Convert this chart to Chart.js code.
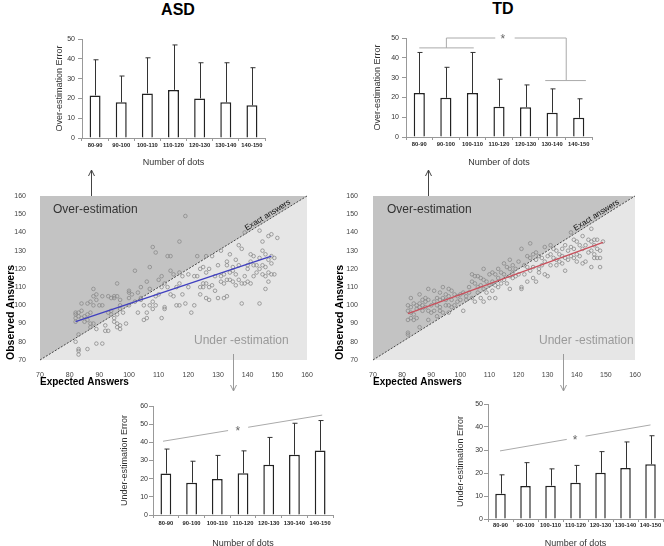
<!DOCTYPE html>
<html><head><meta charset="utf-8">
<script src="https://cdn.jsdelivr.net/npm/chart.js@4/dist/chart.umd.min.js"></script>
<style>
html,body{margin:0;padding:0;width:664px;height:546px;overflow:hidden;background:#fff;}
canvas{position:absolute;}
.ttl{position:absolute;font:bold 16px 'Liberation Sans',sans-serif;color:#000;transform:translate(-50%,-50%);}
</style></head><body>
<div class="ttl" style="left:178px;top:10px">ASD</div>
<div class="ttl" style="left:503px;top:9px">TD</div>
<canvas id="c1" width="245" height="150" style="left:30px;top:25px"></canvas>
<canvas id="c2" width="245" height="150" style="left:360px;top:25px"></canvas>
<canvas id="c3" width="320" height="235" style="left:0px;top:160px"></canvas>
<canvas id="c4" width="320" height="235" style="left:332px;top:160px"></canvas>
<canvas id="c5" width="245" height="160" style="left:100px;top:395px"></canvas>
<canvas id="c6" width="224" height="160" style="left:440px;top:395px"></canvas>
<script>
// ---------- DATA ----------
const categories = ['80-90','90-100','100-110','110-120','120-130','130-140','140-150'];
const asdOverMean = [21.5, 18, 22.5, 24.3, 20, 18, 16.5];
const asdOverSD   = [18, 13.3, 18, 22.7, 18, 20, 19];
const tdOverMean  = [22.2, 19.8, 22.2, 15.3, 15, 12.3, 9.7];
const tdOverSD    = [20.5, 15.4, 20.5, 13.9, 11.3, 12, 9.6];
const asdUnderMean = [22.8, 17.8, 19.8, 23, 27.6, 33.2, 35.5];
const asdUnderSD   = [13.5, 11.8, 13, 12.3, 15.1, 17.3, 16.5];
const tdUnderMean  = [11, 14.3, 14.5, 15.8, 20.1, 22.2, 23.8];
const tdUnderSD    = [8.2, 10.2, 7.3, 7.5, 9.2, 11.3, 12.4];
const scatterTicks = {min: 70, max: 160, step: 10};
const asdFit = [[82, 91], [148, 127]];
const tdFit  = [[82, 95.5], [149, 134.5]];
const asdPoints = [[82,95],[82,93],[82,91],[82,96],[82,80],[83,96],[83,94],[83,84],[83,76],[83,75],[83,73],[84,97],[84,101],[84,93],[85,94],[85,91],[86,101],[86,95],[86,92],[86,76],[87,102],[87,96],[87,90],[87,88],[88,109],[88,105],[88,100],[88,90],[89,106],[89,103],[89,87],[89,79],[90,100],[91,79],[91,105],[91,100],[92,89],[92,86],[93,105],[93,86],[93,96],[94,104],[94,97],[94,95],[95,105],[95,104],[95,93],[95,91],[96,105],[96,95],[96,90],[96,88],[96,112],[97,103],[97,100],[97,98],[97,89],[97,87],[98,96],[99,90],[100,108],[100,107],[100,104],[100,100],[101,106],[102,102],[102,119],[103,107],[103,96],[104,110],[104,104],[104,103],[105,92],[105,100],[106,113],[106,96],[106,93],[107,121],[107,109],[107,100],[108,132],[108,102],[108,98],[109,129],[109,105],[109,100],[110,114],[110,106],[111,116],[111,110],[111,93],[112,112],[112,99],[112,98],[113,127],[113,110],[114,127],[114,119],[114,106],[115,117],[115,105],[116,110],[116,100],[117,135],[117,118],[117,112],[117,100],[118,116],[118,106],[119,149],[119,101],[120,117],[120,110],[121,96],[122,116],[122,100],[123,127],[123,116],[124,120],[124,110],[124,106],[125,121],[125,112],[125,110],[126,127],[126,118],[126,112],[126,104],[127,120],[127,110],[127,103],[128,127],[128,111],[129,116],[129,108],[130,122],[130,104],[131,130],[131,116],[131,113],[132,117],[132,112],[132,104],[133,124],[133,122],[133,114],[133,105],[134,128],[134,118],[134,114],[135,121],[135,119],[135,113],[136,125],[136,117],[136,111],[137,133],[137,122],[137,114],[138,131],[138,112],[138,101],[139,140],[139,116],[139,112],[140,122],[140,120],[140,113],[141,128],[141,124],[141,112],[142,127],[142,122],[142,116],[143,122],[143,118],[144,141],[144,126],[144,120],[144,101],[145,135],[145,130],[145,122],[145,117],[146,128],[146,121],[146,116],[146,109],[147,138],[147,125],[147,118],[147,113],[148,139],[148,127],[148,123],[148,117],[149,126],[149,117],[150,137]];
const tdPoints = [[82,100],[82,97],[82,92],[82,85],[82,84],[83,104],[83,99],[83,96],[83,93],[84,101],[84,95],[84,92],[85,100],[85,98],[85,93],[86,106],[86,101],[86,99],[86,88],[87,103],[87,100],[87,97],[88,104],[88,102],[88,99],[89,109],[89,103],[89,97],[89,92],[90,100],[90,96],[91,108],[91,102],[91,97],[92,104],[92,100],[92,94],[93,107],[93,103],[93,99],[93,97],[94,110],[94,104],[94,96],[95,106],[95,103],[95,100],[96,109],[96,105],[96,100],[96,96],[97,108],[97,103],[97,99],[98,106],[98,100],[99,105],[99,102],[100,106],[100,103],[101,107],[101,97],[102,105],[102,103],[103,110],[103,107],[104,117],[104,113],[104,104],[105,116],[105,112],[105,102],[106,116],[106,110],[106,107],[107,115],[107,111],[107,104],[108,120],[108,114],[108,109],[108,102],[109,113],[109,107],[110,117],[110,111],[110,104],[111,118],[111,113],[111,108],[112,117],[112,111],[112,104],[113,120],[113,115],[113,110],[114,118],[114,112],[115,123],[115,117],[115,114],[116,121],[116,112],[117,125],[117,120],[117,116],[117,109],[118,122],[118,118],[118,115],[119,120],[119,116],[120,124],[120,117],[121,131],[121,110],[121,109],[122,122],[122,117],[123,127],[123,121],[123,113],[124,134],[124,126],[124,119],[125,128],[125,121],[125,115],[126,129],[126,125],[126,113],[127,127],[127,120],[127,118],[128,126],[128,122],[129,132],[129,124],[129,117],[130,127],[130,116],[131,133],[131,128],[131,122],[132,131],[132,126],[133,130],[133,125],[133,122],[134,128],[134,124],[135,131],[135,127],[135,123],[136,133],[136,126],[136,119],[137,130],[137,125],[138,140],[138,132],[138,127],[139,136],[139,131],[139,126],[140,135],[140,128],[140,124],[141,133],[141,127],[142,138],[142,131],[142,123],[143,133],[143,124],[144,136],[144,129],[145,142],[145,135],[145,130],[145,121],[146,136],[146,133],[146,128],[146,126],[147,136],[147,131],[147,126],[148,130],[148,126],[148,121],[149,135]];

// ---------- HELPERS ----------
Chart.defaults.font.family = "'Liberation Sans', sans-serif";
const FONT = "'Liberation Sans', sans-serif";
function catX(chart, i) { const s = chart.scales.x; return s.left + (i + 0.5) * (s.width / categories.length); }
function errPlugin(mean, sd) {
  return { id: 'err', afterDatasetsDraw(chart) {
    const ctx = chart.ctx, y = chart.scales.y, meta = chart.getDatasetMeta(0);
    ctx.save(); ctx.strokeStyle = '#333'; ctx.lineWidth = 1;
    meta.data.forEach((bar, i) => {
      const x = Math.round(bar.x) + 0.5, y0 = y.getPixelForValue(mean[i]), y1 = y.getPixelForValue(mean[i] + sd[i]);
      ctx.beginPath(); ctx.moveTo(x, y0); ctx.lineTo(x, y1); ctx.moveTo(x - 2, y1); ctx.lineTo(x + 3, y1); ctx.stroke();
    });
    ctx.restore();
  }};
}
function star(ctx, x, y) { ctx.save(); ctx.fillStyle = '#666'; ctx.font = '12px ' + FONT; ctx.textAlign = 'center'; ctx.textBaseline = 'alphabetic'; ctx.fillText('*', x, y + 6); ctx.restore(); }
function sigPlugin(fn) { return { id: 'sig', afterDatasetsDraw(chart) {
  const ctx = chart.ctx; ctx.save(); ctx.strokeStyle = '#aaa'; ctx.lineWidth = 1;
  fn(ctx, i => catX(chart, i), v => chart.scales.y.getPixelForValue(v)); ctx.restore(); } }; }
function seg(ctx, pts) { ctx.beginPath(); ctx.moveTo(pts[0][0], pts[0][1]); for (let k = 1; k < pts.length; k++) ctx.lineTo(pts[k][0], pts[k][1]); ctx.stroke(); }

function barChart(id, mean, sd, o) {
  return new Chart(document.getElementById(id), {
    type: 'bar',
    data: { labels: categories, datasets: [{ data: mean, backgroundColor: '#fff', borderColor: '#222', borderWidth: 1.5, borderSkipped: 'start', categoryPercentage: 1, barPercentage: 0.42 }] },
    options: {
      responsive: false, animation: false, devicePixelRatio: 1,
      layout: { padding: { left: 0, top: o.pt, right: o.pr, bottom: 0 } },
      plugins: { legend: { display: false }, tooltip: { enabled: false } },
      scales: {
        x: { afterFit: s => { s.height = o.xh; }, border: { color: '#999' },
             grid: { display: true, drawOnChartArea: false, drawTicks: true, tickLength: 3, color: '#999', offset: true },
             ticks: { font: { family: FONT, size: 5.8, weight: 'bold' }, color: '#222', padding: o.xtp, maxRotation: 0, autoSkip: false },
             title: { display: true, text: 'Number of dots', font: { size: 9 }, color: '#333', padding: { top: 0, bottom: o.xtb } } },
        y: { min: 0, max: o.ymax, afterFit: s => { s.width = o.yw; }, border: { color: '#999' },
             grid: { drawOnChartArea: false, tickLength: 4, color: '#999' },
             ticks: { stepSize: 10, font: { size: 7 }, color: '#333', padding: o.ytp },
             title: { display: true, text: o.ytitle, font: { size: 9 }, color: '#333', padding: { top: o.ytt, bottom: 0 } } }
      }
    },
    plugins: [errPlugin(mean, sd), o.sig].filter(Boolean)
  });
}

function arrow(ctx, x, y0, y1, color) {
  ctx.save(); ctx.strokeStyle = color; ctx.lineWidth = 1;
  const d = y1 > y0 ? -1 : 1;
  ctx.beginPath(); ctx.moveTo(x, y0); ctx.lineTo(x, y1);
  ctx.moveTo(x - 3, y1 + d * 6); ctx.lineTo(x, y1); ctx.lineTo(x + 3, y1 + d * 6); ctx.stroke(); ctx.restore();
}

function scatterChart(id, pts, fit, fitColor, o) {
  const bg = { id: 'bg', beforeDatasetsDraw(chart) {
    const ctx = chart.ctx, a = chart.chartArea, x = chart.scales.x, y = chart.scales.y;
    ctx.save();
    ctx.fillStyle = '#e6e6e6'; ctx.fillRect(a.left, a.top, a.width, a.height);
    ctx.fillStyle = '#c3c3c3';
    ctx.beginPath(); ctx.moveTo(x.getPixelForValue(70), y.getPixelForValue(70)); ctx.lineTo(x.getPixelForValue(160), y.getPixelForValue(160)); ctx.lineTo(x.getPixelForValue(70), y.getPixelForValue(160)); ctx.closePath(); ctx.fill();
    ctx.strokeStyle = '#222'; ctx.lineWidth = 0.8; ctx.setLineDash([2, 1.5]);
    ctx.beginPath(); ctx.moveTo(x.getPixelForValue(70), y.getPixelForValue(70)); ctx.lineTo(x.getPixelForValue(160), y.getPixelForValue(160)); ctx.stroke();
    ctx.restore();
  }, afterDatasetsDraw(chart) {
    const ctx = chart.ctx, a = chart.chartArea, x = chart.scales.x, y = chart.scales.y;
    ctx.save();
    const ang = Math.atan2(y.getPixelForValue(160) - y.getPixelForValue(70), x.getPixelForValue(160) - x.getPixelForValue(70));
    ctx.translate(x.getPixelForValue(147.5), y.getPixelForValue(147.5)); ctx.rotate(ang);
    ctx.fillStyle = '#111'; ctx.font = '8px ' + FONT; ctx.textAlign = 'center'; ctx.textBaseline = 'alphabetic';
    ctx.fillText('Exact answers', 0, -2);
    ctx.restore();
    ctx.save();
    ctx.font = '12px ' + FONT; ctx.textBaseline = 'middle'; ctx.textAlign = 'left';
    ctx.fillStyle = '#333'; ctx.fillText('Over-estimation', a.left + o.overDx, a.top + 14);
    ctx.fillStyle = '#9a9a9a'; ctx.fillText('Under -estimation', a.left + o.underDx, a.bottom - 19);
    ctx.restore();
    arrow(ctx, Math.round(a.left + o.upDx) + 0.5, a.top, a.top - 26, '#444');
    arrow(ctx, Math.round(a.left + o.downDx) + 0.5, a.bottom - 6, a.bottom + 31, '#999');
  }};
  return new Chart(document.getElementById(id), {
    type: 'scatter',
    data: { datasets: [
      { type: 'line', data: fit.map(p => ({ x: p[0], y: p[1] })), borderColor: fitColor, borderWidth: 1.3, pointRadius: 0, fill: false },
      { data: pts.map(p => ({ x: p[0], y: p[1] })), pointRadius: 1.8, borderWidth: 0.8, borderColor: '#8a8a8a', backgroundColor: 'rgba(0,0,0,0)' }
    ] },
    options: {
      responsive: false, animation: false, devicePixelRatio: 1,
      layout: { padding: { left: 0, top: 36, right: o.pr, bottom: 0 } },
      plugins: { legend: { display: false }, tooltip: { enabled: false } },
      scales: {
        x: { type: 'linear', min: scatterTicks.min, max: scatterTicks.max, afterFit: s => { s.height = 35; },
             grid: { display: false }, border: { display: false },
             ticks: { stepSize: scatterTicks.step, font: { size: 7 }, color: '#444', padding: 3, maxRotation: 0 },
             title: { display: true, text: 'Expected Answers', align: 'start', font: { size: 10, weight: 'bold' }, color: '#000', padding: { top: 0, bottom: 7 } } },
        y: { min: scatterTicks.min, max: scatterTicks.max, afterFit: s => { s.width = o.yw; },
             grid: { display: false }, border: { display: false },
             ticks: { stepSize: scatterTicks.step, font: { size: 7 }, color: '#444', padding: o.ytp },
             title: { display: true, text: 'Observed Answers', align: 'start', font: { size: 10.5, weight: 'bold' }, color: '#000', padding: { top: o.ytt, bottom: 0 } } }
      }
    },
    plugins: [bg]
  });
}

// ---------- CHARTS ----------
barChart('c1', asdOverMean, asdOverSD, { pt: 14, pr: 10, xh: 37, yw: 52, ymax: 50, ytitle: 'Over-estimation Error', ytt: 24, ytp: 3, xtp: 1, xtb: 7 });
barChart('c2', tdOverMean, tdOverSD, { pt: 13, pr: 13, xh: 38, yw: 46, ymax: 50, ytitle: 'Over-estimation Error', ytt: 12, ytp: 3, xtp: 1, xtb: 7,
  sig: sigPlugin((ctx, X, Y) => {
    seg(ctx, [[X(0), Y(45)], [X(2.05), Y(45)]]);
    seg(ctx, [[X(1.02), Y(45)], [X(1.02), Y(50)], [X(2.86), Y(50)]]);
    seg(ctx, [[X(3.59), Y(50)], [X(5.53), Y(50)], [X(5.53), Y(28.5)]]);
    seg(ctx, [[X(4.74), Y(28.5)], [X(6.27), Y(28.5)]]);
    star(ctx, X(3.14), Y(50) - 1);
  }) });
scatterChart('c3', asdPoints, asdFit, '#3f3fbf', { pr: 13, yw: 40, ytp: 6, ytt: 5, overDx: 13, underDx: 154, upDx: 51, downDx: 193 });
scatterChart('c4', tdPoints, tdFit, '#c9505c', { pr: 17, yw: 41, ytp: 7, ytt: 2, overDx: 14, underDx: 166, upDx: 55, downDx: 190 });
barChart('c5', asdUnderMean, asdUnderSD, { pt: 11, pr: 12, xh: 40, yw: 53, ymax: 60, ytitle: 'Under-estimation Error', ytt: 19, ytp: 1, xtp: 2, xtb: 6,
  sig: sigPlugin((ctx, X, Y) => {
    const a = [-0.11, 40.6], b = [6.08, 55];
    const v = t => a[1] + (t - a[0]) / (b[0] - a[0]) * (b[1] - a[1]);
    seg(ctx, [[X(a[0]), Y(a[1])], [X(2.42), Y(v(2.42))]]);
    seg(ctx, [[X(3.2), Y(v(3.2))], [X(b[0]), Y(b[1])]]);
    star(ctx, X(2.8), Y(v(2.8)));
  }) });
barChart('c6', tdUnderMean, tdUnderSD, { pt: 9, pr: 1, xh: 36, yw: 48, ymax: 50, ytitle: 'Under-estimation Error', ytt: 15, ytp: 1, xtp: 0, xtb: 6,
  sig: sigPlugin((ctx, X, Y) => {
    const a = [-0.02, 29.6], b = [6.0, 40.9];
    const v = t => a[1] + (t - a[0]) / (b[0] - a[0]) * (b[1] - a[1]);
    seg(ctx, [[X(a[0]), Y(a[1])], [X(2.65), Y(v(2.65))]]);
    seg(ctx, [[X(3.4), Y(v(3.4))], [X(b[0]), Y(b[1])]]);
    star(ctx, X(2.98), Y(v(2.98)));
  }) });
</script>
</body></html>
